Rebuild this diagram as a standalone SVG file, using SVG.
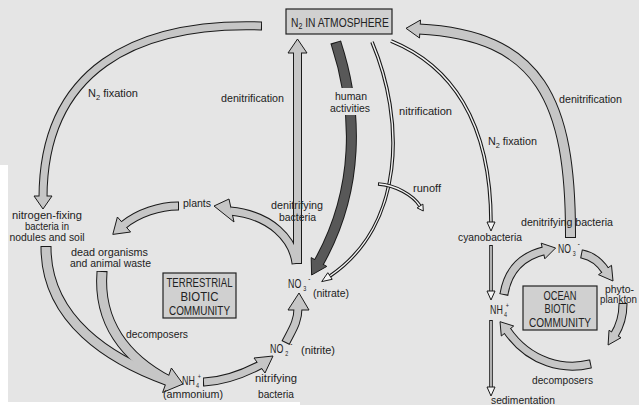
<svg xmlns="http://www.w3.org/2000/svg" width="639" height="405" viewBox="0 0 639 405">
<style>
.bo{fill:none;stroke:#1a1a1a;stroke-width:9}
.bi{fill:none;stroke:#c6c6c6;stroke-width:7}
.bo2{fill:none;stroke:#1a1a1a;stroke-width:11}
.bi2{fill:none;stroke:#c6c6c6;stroke-width:9}
.hd{fill:#c6c6c6;stroke:#1a1a1a;stroke-width:1;stroke-linejoin:miter}
.ko{fill:none;stroke:#1a1a1a;stroke-width:11}
.ki{fill:none;stroke:#585858;stroke-width:9}
.kh{fill:#585858;stroke:#1a1a1a;stroke-width:1}
.do{fill:none;stroke:#1a1a1a;stroke-width:3.6}
.di{fill:none;stroke:#f4f4f4;stroke-width:1.4}
.dh{fill:#f4f4f4;stroke:#1a1a1a;stroke-width:1}
.box{fill:#d0d0d0;stroke:#222;stroke-width:1.2}
text{font-family:"Liberation Sans",Arial,sans-serif;font-size:11px;fill:#222}
.tb{font-size:13px}
.t12{font-size:12px}
.t10{font-size:10px}
</style>
<rect x="0" y="0" width="639" height="405" fill="#e5e5e5"/>
<rect x="0" y="165" width="8" height="240" fill="#ffffff"/>
<rect x="0" y="402" width="300" height="3" fill="#ffffff"/>

<g id="connectors">
  <path class="bo" d="M262,26 L261,26 C135,22 43,70 43,198"/>
  <path class="bo" d="M297.5,264 L297.5,263 L297.5,51"/>
  <path class="bo" d="M296.1,264 L296,263 C293,240 272,215 230,211"/>
  <path class="bo" d="M179,206 L178,206 C160,206 138,213 122.9,225.5"/>
  <path class="bo2" d="M46,246 L46,247 C46,320 110,360 169,381"/>
  <path class="bo2" d="M102,271 L102,272 C98,322 125,358 169,381"/>
  <path class="bo" d="M203,382 L204,382 C225,381 245,373 261,364.5"/>
  <path class="bo" d="M285.5,343 L286,342 C292,330 298,322 298,308"/>
  <path class="bo2" d="M570.5,238 L570.5,237 C571,100 540,35 418.5,29"/>
  <path class="bo" d="M503.8,295 L504,294 C508,270 522,256 544.5,250.6"/>
  <path class="bo" d="M581,253.8 L582,254 C592,256 600,262 606,271.5"/>
  <path class="bo" d="M623,303 L623,304 C623,316 620,326 614.2,335.3"/>
  <path class="bo" d="M591,363.8 L590,364 C565,370 530,364 506.6,329.8"/>
  <polygon class="hd" points="34,196 43,209 52,196"/>
  <polygon class="hd" points="288,53 297.5,39 307,53"/>
  <polygon class="hd" points="229,199 214,206 234,222"/>
  <polygon class="hd" points="130.6,232 112.8,234.4 117.4,217"/>
  <polygon class="hd" points="171.4,368 183,384 162.6,392.5"/>
  <polygon class="hd" points="254,358 273,356 265,373"/>
  <polygon class="hd" points="288,310 299,293 309,310"/>
  <polygon class="hd" points="420.5,20 406,28.3 419.5,38"/>
  <polygon class="hd" points="541.2,243.2 555.6,248 544.8,258.8"/>
  <polygon class="hd" points="611.5,265.3 613,281 598.5,274.7"/>
  <polygon class="hd" points="621,337.7 608.1,345 609,330.3"/>
  <polygon class="hd" points="513.7,326 500,321.7 501.3,336"/>
  <path class="bi" d="M261,26 C135,22 43,70 43,198"/>
  <path class="bi" d="M297.5,263 L297.5,51"/>
  <path class="bi" d="M296,263 C293,240 272,215 230,211"/>
  <path class="bi" d="M178,206 C160,206 138,213 122.9,225.5"/>
  <path class="bi2" d="M46,247 C46,320 110,360 169,381"/>
  <path class="bi2" d="M102,272 C98,322 125,358 169,381"/>
  <path class="bi" d="M204,382 C225,381 245,373 261,364.5"/>
  <path class="bi" d="M286,342 C292,330 298,322 298,308"/>
  <path class="bi2" d="M570.5,237 C571,100 540,35 418.5,29"/>
  <path class="bi" d="M504,294 C508,270 522,256 544.5,250.6"/>
  <path class="bi" d="M582,254 C592,256 600,262 606,271.5"/>
  <path class="bi" d="M623,304 C623,316 620,326 614.2,335.3"/>
  <path class="bi" d="M590,364 C565,370 530,364 506.6,329.8"/>

  <path class="ko" d="M335.7,42 L336,43 C358,110 360,190 318.3,263.3"/>
  <polygon class="kh" points="311.2,257.6 311.6,275 326.8,266.4"/>
  <path class="ki" d="M336,43 C358,110 360,190 318.3,263.3"/>
  <rect x="329" y="88" width="44" height="27" fill="#e5e5e5"/>

  <path class="do" d="M372,42 C405,120 405,225 330,276"/>
  <path class="di" d="M372,42 C405,120 405,225 330,276"/>
  <polygon class="dh" points="321.7,281.6 332.2,279.3 327.8,272.7"/>
  <path class="do" d="M378,184 C395,185 413,195 420,206"/>
  <path class="di" d="M379,184 C395,185 413,195 420,206"/>
  <polygon class="dh" points="423.3,211 422.9,204.1 417.1,207.9"/>
  <path class="do" d="M391,41 C450,65 491,120 491,223"/>
  <path class="di" d="M391,41 C450,65 491,120 491,223"/>
  <polygon class="dh" points="491,231 487,222 495,222"/>
  <path class="do" d="M491,245 L491,292"/>
  <path class="di" d="M491,246 L491,292"/>
  <polygon class="dh" points="491,300 487,291 495,291"/>
  <path class="do" d="M491,320 L491,388"/>
  <path class="di" d="M491,321 L491,388"/>
  <polygon class="dh" points="491,396 487,387 495,387"/>
</g>

<g id="atmosphere">
  <rect class="box" x="286" y="9" width="106" height="25"/>
  <text class="tb" transform="translate(291 27) scale(0.79 1)">N<tspan font-size="9" dy="2">2</tspan><tspan dy="-2"> IN ATMOSPHERE</tspan></text>
</g>

<g id="labels-flows">
  <text x="88" y="97" textLength="50" lengthAdjust="spacingAndGlyphs">N<tspan font-size="7.5" dy="2.5">2</tspan><tspan dy="-2.5"> fixation</tspan></text>
  <text x="221" y="102" textLength="63" lengthAdjust="spacingAndGlyphs">denitrification</text>
  <text x="335" y="100" textLength="32" lengthAdjust="spacingAndGlyphs">human</text>
  <text x="330" y="112" textLength="40" lengthAdjust="spacingAndGlyphs">activities</text>
  <text x="399" y="115" textLength="53" lengthAdjust="spacingAndGlyphs">nitrification</text>
  <text x="488" y="145" textLength="49" lengthAdjust="spacingAndGlyphs">N<tspan font-size="7.5" dy="2.5">2</tspan><tspan dy="-2.5"> fixation</tspan></text>
  <text x="559" y="103" textLength="63" lengthAdjust="spacingAndGlyphs">denitrification</text>
  <text x="413" y="192" textLength="28" lengthAdjust="spacingAndGlyphs">runoff</text>
</g>

<g id="plants"><text x="183" y="207" textLength="28" lengthAdjust="spacingAndGlyphs">plants</text></g>

<g id="nitrogen-fixing-bacteria">
  <text x="47" y="219" text-anchor="middle" textLength="70" lengthAdjust="spacingAndGlyphs">nitrogen-fixing</text>
  <text x="47" y="230" text-anchor="middle" textLength="44" lengthAdjust="spacingAndGlyphs">bacteria in</text>
  <text x="47" y="241" text-anchor="middle" textLength="75" lengthAdjust="spacingAndGlyphs">nodules and soil</text>
</g>

<g id="dead-organisms">
  <text x="71" y="256" class="t10" textLength="77" lengthAdjust="spacingAndGlyphs">dead organisms</text>
  <text x="70" y="266.5" class="t10" textLength="81" lengthAdjust="spacingAndGlyphs">and animal waste</text>
</g>

<g id="terrestrial-community">
  <rect class="box" x="163" y="273" width="73" height="45"/>
  <text x="199.5" y="287" class="tb" text-anchor="middle" textLength="66" lengthAdjust="spacingAndGlyphs">TERRESTRIAL</text>
  <text x="199.5" y="301" class="tb" text-anchor="middle" textLength="38" lengthAdjust="spacingAndGlyphs">BIOTIC</text>
  <text x="199.5" y="315" class="tb" text-anchor="middle" textLength="61" lengthAdjust="spacingAndGlyphs">COMMUNITY</text>
</g>

<g id="decomposers-land"><text x="126" y="338" textLength="62" lengthAdjust="spacingAndGlyphs">decomposers</text></g>

<g id="denitrifying-bacteria-land">
  <text x="271" y="209" textLength="52" lengthAdjust="spacingAndGlyphs">denitrifying</text>
  <text x="279" y="221" textLength="37" lengthAdjust="spacingAndGlyphs">bacteria</text>
</g>

<g id="nitrate">
  <text class="tb" transform="translate(288 288) scale(0.68 1)">NO<tspan font-size="8" dx="3" dy="3">3</tspan><tspan font-size="9" dx="3" dy="-9">-</tspan></text>
  <text x="313" y="297" textLength="36" lengthAdjust="spacingAndGlyphs">(nitrate)</text>
</g>

<g id="nitrite">
  <text class="tb" transform="translate(270 353) scale(0.68 1)">NO<tspan font-size="8" dx="3" dy="3">2</tspan><tspan font-size="9" dx="3" dy="-9">-</tspan></text>
  <text x="301" y="354" textLength="34" lengthAdjust="spacingAndGlyphs">(nitrite)</text>
</g>

<g id="nitrifying-bacteria">
  <text x="255" y="382" textLength="42" lengthAdjust="spacingAndGlyphs">nitrifying</text>
  <text x="258" y="398" textLength="36" lengthAdjust="spacingAndGlyphs">bacteria</text>
</g>

<g id="ammonium">
  <text class="tb" transform="translate(182 385) scale(0.68 1)">NH<tspan font-size="8" dx="2" dy="3">4</tspan><tspan font-size="8" dx="-2" dy="-9">+</tspan></text>
  <text x="163" y="398" textLength="60" lengthAdjust="spacingAndGlyphs">(ammonium)</text>
</g>

<g id="ocean-denitrifying-bacteria"><text x="521" y="226" textLength="92" lengthAdjust="spacingAndGlyphs">denitrifying bacteria</text></g>
<g id="cyanobacteria"><text x="458" y="241" textLength="64" lengthAdjust="spacingAndGlyphs">cyanobacteria</text></g>

<g id="ocean-nitrate">
  <text class="tb" transform="translate(558 253) scale(0.66 1)">NO<tspan font-size="8" dx="3" dy="3">3</tspan><tspan font-size="9" dx="3" dy="-9">-</tspan></text>
</g>

<g id="phytoplankton">
  <text x="605" y="292.5" class="t10" textLength="29" lengthAdjust="spacingAndGlyphs">phyto-</text>
  <text x="600" y="303" class="t10" textLength="37" lengthAdjust="spacingAndGlyphs">plankton</text>
</g>

<g id="ocean-community">
  <rect class="box" x="523" y="286" width="74" height="44"/>
  <text x="560" y="299.5" class="t12" text-anchor="middle" textLength="33" lengthAdjust="spacingAndGlyphs">OCEAN</text>
  <text x="560" y="313" class="t12" text-anchor="middle" textLength="31" lengthAdjust="spacingAndGlyphs">BIOTIC</text>
  <text x="560" y="326.5" class="t12" text-anchor="middle" textLength="62" lengthAdjust="spacingAndGlyphs">COMMUNITY</text>
</g>

<g id="ocean-ammonium">
  <text class="tb" transform="translate(490 314) scale(0.68 1)">NH<tspan font-size="8" dx="2" dy="3">4</tspan><tspan font-size="8" dx="-2" dy="-9">+</tspan></text>
</g>

<g id="decomposers-ocean"><text x="532" y="384" textLength="61" lengthAdjust="spacingAndGlyphs">decomposers</text></g>
<g id="sedimentation"><text x="491" y="404" textLength="64" lengthAdjust="spacingAndGlyphs">sedimentation</text></g>
</svg>
